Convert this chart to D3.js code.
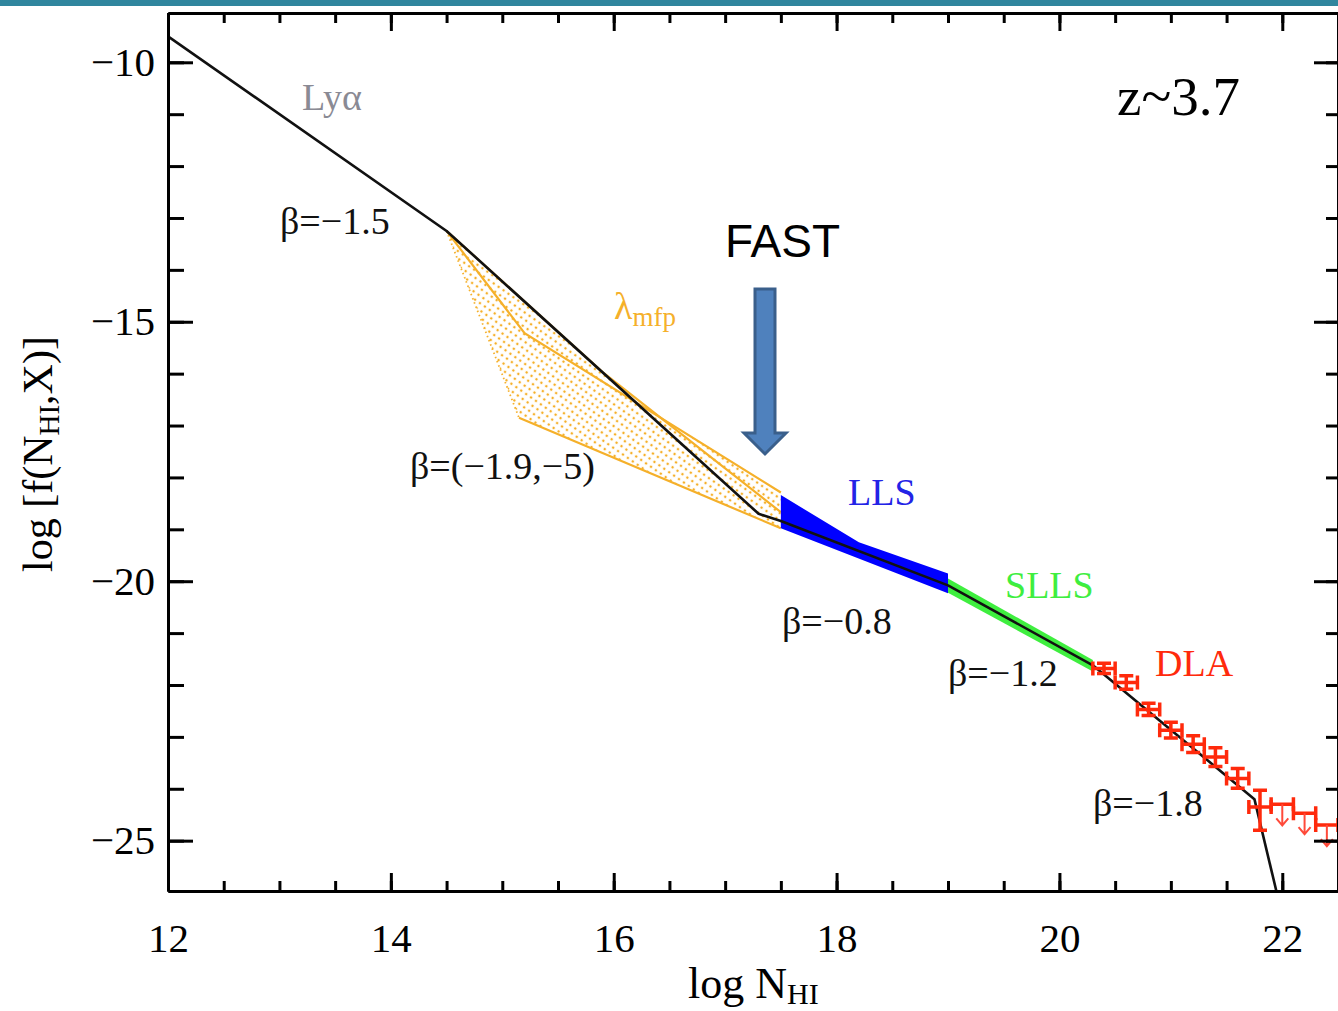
<!DOCTYPE html>
<meta charset="utf-8">
<head>
  <style>
    body { margin: 0; background: #fff; }
    svg { display: block; }
    .serif { font-family: "Liberation Serif", "DejaVu Serif", serif; }
  </style>
</head>
<body>
  <div class="main"></div>
  <script src="https://cdn.jsdelivr.net/npm/d3@7"></script>
  <script>
    // broken power-law fit (black), log N_HI vs log f
    var fitN = [12, 14.5, 17.3, 17.5, 19, 20.3, 21.75, 21.95];
    var fitF = [-9.5, -13.25, -18.7, -18.84, -20.08, -21.62, -24.2, -26.0];

    // LLS band (blue)
    var llsTopN = [17.5, 18.2, 19.0];
    var llsTopF = [-18.34, -19.25, -19.85];
    var llsBotN = [17.5, 19.0];
    var llsBotF = [-18.98, -20.23];

    // SLLS band (green)
    var sllsN = [19.0, 20.3];
    var sllsHi = [-19.95, -21.52];
    var sllsLo = [-20.22, -21.74];

    // lambda_mfp fan (orange)
    var fanUpperN = [14.5, 15.2, 17.5];
    var fanUpperF = [-13.25, -15.22, -18.29];
    var fanMiddleN = [14.5, 15.9, 17.5];
    var fanMiddleF = [-13.25, -15.97, -18.67];
    var fanLowerN = [15.15, 17.5];
    var fanLowerF = [-16.85, -18.98];
    var fanEdgeN = [14.5, 15.15];
    var fanEdgeF = [-13.25, -16.85];
    var fanAreaN = [14.5, 16.2, 17.5, 17.5, 15.15];
    var fanAreaF = [-13.25, -16.56, -18.29, -18.98, -16.85];

    // DLA measurements (red)
    var dlaN = [20.4, 20.6, 20.8, 21.0, 21.2, 21.4, 21.6, 21.8];
    var dlaF = [-21.68, -21.95, -22.47, -22.87, -23.14, -23.39, -23.80, -24.35];
    var dlaErrHi = [0.10, 0.13, 0.12, 0.15, 0.16, 0.18, 0.19, 0.32];
    var dlaErrLo = [0.10, 0.13, 0.12, 0.15, 0.16, 0.18, 0.19, 0.45];
    var dlaHalfBin = [0.1, 0.1, 0.1, 0.1, 0.1, 0.1, 0.1, 0.1];
    // upper limits
    var limN = [22.0, 22.2, 22.4];
    var limF = [-24.3, -24.47, -24.7];
    var limHalfBin = [0.1, 0.1, 0.1];

    // axes ticks
    var xMajor = [12, 14, 16, 18, 20, 22];
    var xMinor = d3.range(12, 22.51, 0.5);
    var yMajor = [-10, -15, -20, -25];
    var yMinor = d3.range(-25, -9, 1);

    var width = 1338, height = 1011;
    var svg = d3.select(".main").append("svg")
      .attr("width", width)
      .attr("height", height);

    // top banner strip
    svg.append("rect").attr("x", 0).attr("y", 0).attr("width", width).attr("height", 6).attr("fill", "#30869e");

    var pLeft = 168, pRight = 1338, pTop = 13, pBottom = 891;
    var x = d3.scaleLinear().domain([12, 22.5]).range([pLeft, pRight]);
    var y = d3.scaleLinear().domain([-25.97, -9.05]).range([pBottom, pTop]);

    var defs = svg.append("defs");
    defs.append("clipPath").attr("id", "plotclip")
      .append("rect").attr("x", pLeft).attr("y", pTop).attr("width", pRight - pLeft).attr("height", pBottom - pTop);
    var pat = defs.append("pattern").attr("id", "dots")
      .attr("patternUnits", "userSpaceOnUse").attr("width", 6).attr("height", 6)
      .attr("patternTransform", "rotate(35)");
    pat.append("circle").attr("cx", 3).attr("cy", 3).attr("r", 1.3).attr("fill", "#f5b02a");

    var plot = svg.append("g").attr("clip-path", "url(#plotclip)");

    var line = d3.line().x(function (d) { return x(d[0]); }).y(function (d) { return y(d[1]); });
    function zip(a, b) { return a.map(function (v, i) { return [v, b[i]]; }); }

    var orange = "#f5b02a";

    // dotted fan area
    plot.append("path")
      .attr("d", line(zip(fanAreaN, fanAreaF)) + "Z")
      .attr("fill", "url(#dots)");
    plot.append("path")
      .attr("d", line(zip(fanEdgeN, fanEdgeF)))
      .attr("fill", "none").attr("stroke", orange).attr("stroke-width", 1.8)
      .attr("stroke-dasharray", "1.5,3");
    [[fanUpperN, fanUpperF], [fanMiddleN, fanMiddleF], [fanLowerN, fanLowerF]].forEach(function (s) {
      plot.append("path")
        .attr("d", line(zip(s[0], s[1])))
        .attr("fill", "none").attr("stroke", orange).attr("stroke-width", 2.2);
    });

    // LLS band
    var llsPoly = zip(llsTopN, llsTopF).concat(zip(llsBotN, llsBotF).reverse());
    plot.append("path").attr("d", line(llsPoly) + "Z").attr("fill", "#0000ff");

    // SLLS band
    var sllsPoly = zip(sllsN, sllsHi).concat(zip(sllsN, sllsLo).reverse());
    plot.append("path").attr("d", line(sllsPoly) + "Z").attr("fill", "#3fee3f");

    // fit line
    plot.append("path")
      .attr("d", line(zip(fitN, fitF)))
      .attr("fill", "none").attr("stroke", "#111").attr("stroke-width", 2.6)
      .attr("stroke-linejoin", "round");

    // DLA points
    var red = "#ff2a0c";
    var dla = plot.append("g").attr("stroke", red).attr("stroke-width", 3.5).attr("fill", "none");
    dlaN.forEach(function (n, i) {
      var x0 = x(n - dlaHalfBin[i]), x1 = x(n + dlaHalfBin[i]), xc = x(n);
      var yc = y(dlaF[i]), yt = y(dlaF[i] + dlaErrHi[i]), yb = y(dlaF[i] - dlaErrLo[i]);
      var p = d3.path();
      p.moveTo(x0, yc); p.lineTo(x1, yc);
      p.moveTo(x0, yc - 7); p.lineTo(x0, yc + 7);
      p.moveTo(x1, yc - 7); p.lineTo(x1, yc + 7);
      p.moveTo(xc, yt); p.lineTo(xc, yb);
      p.moveTo(xc - 7, yt); p.lineTo(xc + 7, yt);
      p.moveTo(xc - 7, yb); p.lineTo(xc + 7, yb);
      dla.append("path").attr("d", p.toString());
    });
    limN.forEach(function (n, i) {
      var x0 = x(n - limHalfBin[i]), x1 = x(n + limHalfBin[i]), xc = x(n);
      var yc = y(limF[i]), ye = yc + 21;
      var p = d3.path();
      p.moveTo(x0, yc); p.lineTo(x1, yc);
      p.moveTo(x0, yc - 7); p.lineTo(x0, yc + 7);
      p.moveTo(x1, yc - 7); p.lineTo(x1, yc + 7);
      dla.append("path").attr("d", p.toString());
      var a = d3.path();
      a.moveTo(xc, yc); a.lineTo(xc, ye);
      a.moveTo(xc - 6, ye - 7); a.lineTo(xc, ye); a.lineTo(xc + 6, ye - 7);
      dla.append("path").attr("d", a.toString()).attr("stroke-width", 2).attr("stroke", "#ff4a3a");
    });

    // axes (ticks point inward)
    function styleAxis(g) {
      g.selectAll("path.domain").attr("stroke", "#000").attr("stroke-width", 3);
      g.selectAll(".tick line").attr("stroke", "#000").attr("stroke-width", 3);
      g.selectAll("text").attr("class", "serif").attr("font-size", 41).attr("fill", "#000");
    }
    svg.append("g").attr("transform", "translate(0," + pBottom + ")")
      .call(d3.axisBottom(x).tickValues(xMinor).tickSizeInner(-10).tickSizeOuter(0).tickFormat(""))
      .call(styleAxis);
    svg.append("g").attr("transform", "translate(0," + pBottom + ")")
      .call(d3.axisBottom(x).tickValues(xMajor).tickSizeInner(-18).tickSizeOuter(0).tickPadding(32).tickFormat(d3.format("d")))
      .call(styleAxis);
    svg.append("g").attr("transform", "translate(0," + pTop + ")")
      .call(d3.axisTop(x).tickValues(xMinor).tickSizeInner(-10).tickSizeOuter(0).tickFormat(""))
      .call(styleAxis);
    svg.append("g").attr("transform", "translate(0," + pTop + ")")
      .call(d3.axisTop(x).tickValues(xMajor).tickSizeInner(-18).tickSizeOuter(0).tickFormat(""))
      .call(styleAxis);
    svg.append("g").attr("transform", "translate(" + pLeft + ",0)")
      .call(d3.axisLeft(y).tickValues(yMinor).tickSizeInner(-16).tickSizeOuter(0).tickFormat(""))
      .call(styleAxis);
    svg.append("g").attr("transform", "translate(" + pLeft + ",0)")
      .call(d3.axisLeft(y).tickValues(yMajor).tickSizeInner(-25).tickSizeOuter(0).tickPadding(13).tickFormat(d3.format("d")))
      .call(styleAxis);
    svg.append("g").attr("transform", "translate(" + pRight + ",0)")
      .call(d3.axisRight(y).tickValues(yMinor).tickSizeInner(-12).tickSizeOuter(0).tickFormat(""))
      .call(styleAxis);
    svg.append("g").attr("transform", "translate(" + pRight + ",0)")
      .call(d3.axisRight(y).tickValues(yMajor).tickSizeInner(-24).tickSizeOuter(0).tickFormat(""))
      .call(styleAxis);

    // axis titles
    var xt = svg.append("text").attr("class", "serif").attr("font-size", 44)
      .attr("x", 688).attr("y", 998);
    xt.append("tspan").text("log N");
    xt.append("tspan").attr("font-size", 30).attr("dy", 6).text("HI");

    var yt = svg.append("text").attr("class", "serif").attr("font-size", 42)
      .attr("transform", "translate(52,454) rotate(-90)").attr("text-anchor", "middle");
    yt.append("tspan").text("log [f(N");
    yt.append("tspan").attr("font-size", 29).attr("dy", 7).text("HI");
    yt.append("tspan").attr("dy", -7).text(",X)]");

    // annotations
    function label(txt, px, py, size, color) {
      return svg.append("text").attr("class", "serif")
        .attr("x", px).attr("y", py).attr("font-size", size).attr("fill", color).text(txt);
    }
    label("Ly\u03b1", 302, 110, 38, "#8a8a94");
    label("\u03b2=\u22121.5", 280, 234, 38, "#111");
    label("\u03b2=(\u22121.9,\u22125)", 410, 479, 38, "#111");
    label("\u03b2=\u22120.8", 782, 634, 38, "#111");
    label("\u03b2=\u22121.2", 948, 686, 38, "#111");
    label("\u03b2=\u22121.8", 1093, 816, 38, "#111");
    label("LLS", 848, 505, 38, "#2323e6");
    label("SLLS", 1005, 598, 38, "#3fee3f");
    label("DLA", 1155, 676, 38, "#ff2a0c");
    label("z~3.7", 1117, 115, 55, "#000");
    var lam = label("\u03bb", 614, 319, 38, orange);
    lam.append("tspan").attr("font-size", 27).attr("dy", 7).text("mfp");

    // FAST arrow
    svg.append("text").attr("x", 725).attr("y", 257)
      .attr("font-family", "Liberation Sans, Arial, sans-serif").attr("font-size", 46).attr("fill", "#000")
      .text("FAST");
    svg.append("path")
      .attr("d", "M755,289 L775,289 L775,433 L786,433 L765,454 L744,433 L755,433 Z")
      .attr("fill", "#4f81bd").attr("stroke", "#3a5f8b").attr("stroke-width", 3)
      .attr("stroke-linejoin", "miter");
  </script>
</body>
